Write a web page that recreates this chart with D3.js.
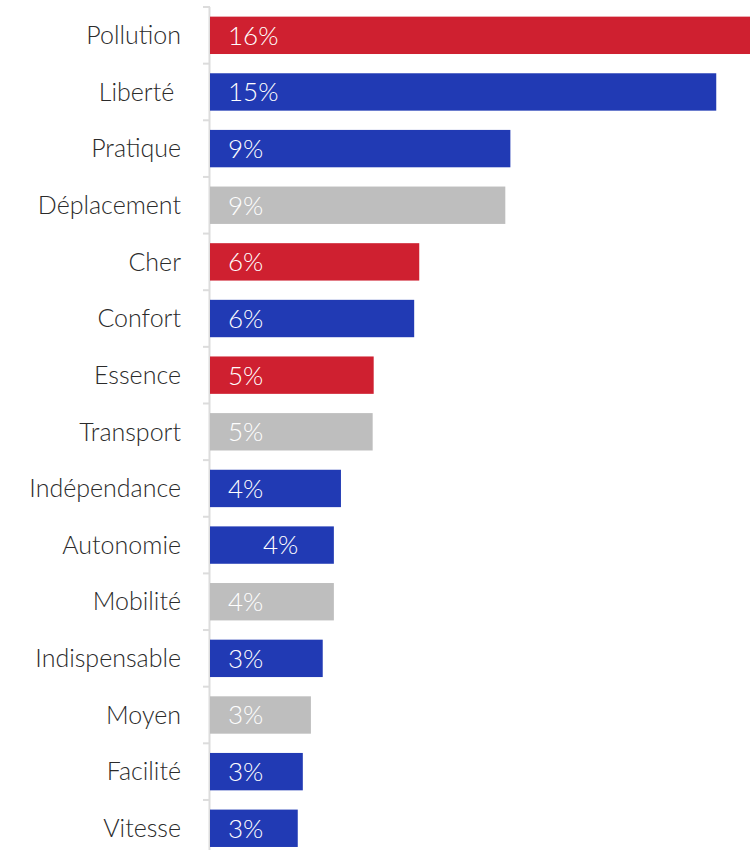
<!DOCTYPE html>
<html><head><meta charset="utf-8">
<script src="https://cdn.jsdelivr.net/npm/d3@7"></script>
<style>
html,body{margin:0;padding:0;background:#fff;}
svg{display:block;}
text{white-space:pre;}
</style></head>
<body>
<svg id="chart" width="750" height="850"></svg>
<script>
const categories = ["Pollution","Liberté ","Pratique","Déplacement","Cher","Confort","Essence","Transport","Indépendance","Autonomie","Mobilité","Indispensable","Moyen","Facilité","Vitesse"];
const values = [16.2, 15.0, 8.9, 8.75, 6.2, 6.05, 4.85, 4.82, 3.88, 3.67, 3.67, 3.34, 2.99, 2.75, 2.6];
const labels = ["16%","15%","9%","9%","6%","6%","5%","5%","4%","4%","4%","3%","3%","3%","3%"];
const groups = ["red","blue","blue","grey","red","blue","red","grey","blue","blue","grey","blue","grey","blue","blue"];

const colorMap = {red:"#CF2030", blue:"#213AB4", grey:"#BEBEBE"};
const svg = d3.select("#chart");
const font = "Lato, 'Open Sans', sans-serif";

const x = d3.scaleLinear().domain([0, 16]).range([210, 750]);
const y = d3.scaleBand().domain(categories).range([7, 7 + 15*56.64]).paddingInner(0.34).paddingOuter(0.17);

const step = y.step();
svg.append("line").attr("x1",209.5).attr("x2",209.5).attr("y1",7).attr("y2",850)
  .attr("stroke","#dcdcdc").attr("stroke-width",2);
d3.range(categories.length+1).forEach(i=>{
  const yy = 7 + i*step;
  svg.append("line").attr("x1",203).attr("x2",210).attr("y1",yy).attr("y2",yy)
    .attr("stroke","#dcdcdc").attr("stroke-width",2);
});

const data = categories.map((c,i)=>({c, v:values[i], l:labels[i], g:groups[i]}));

svg.append("g").selectAll("rect").data(data).join("rect")
  .attr("x", x(0)).attr("y", d=>y(d.c))
  .attr("width", d=>Math.min(x(d.v), 750) - x(0))
  .attr("height", y.bandwidth())
  .attr("fill", d=>colorMap[d.g]);

svg.append("g").selectAll("text").data(data).join("text")
  .attr("x", 181).attr("y", d=>y(d.c)+y.bandwidth()/2)
  .attr("dy","0.35em").attr("text-anchor","end")
  .attr("font-family", font).attr("font-weight", 300).attr("font-size", 25).attr("fill","#2b2b2b")
  .text(d=>d.c);

svg.append("g").selectAll("text").data(data).join("text")
  .attr("x", d=> x(0) + 18 + (d.c==="Autonomie" ? 35 : 0))
  .attr("y", d=>y(d.c)+y.bandwidth()/2)
  .attr("dy","0.36em")
  .attr("font-family", font).attr("font-weight", 300).attr("font-size", 26).attr("fill","#fff")
  .text(d=>d.l);
</script>
</body></html>
